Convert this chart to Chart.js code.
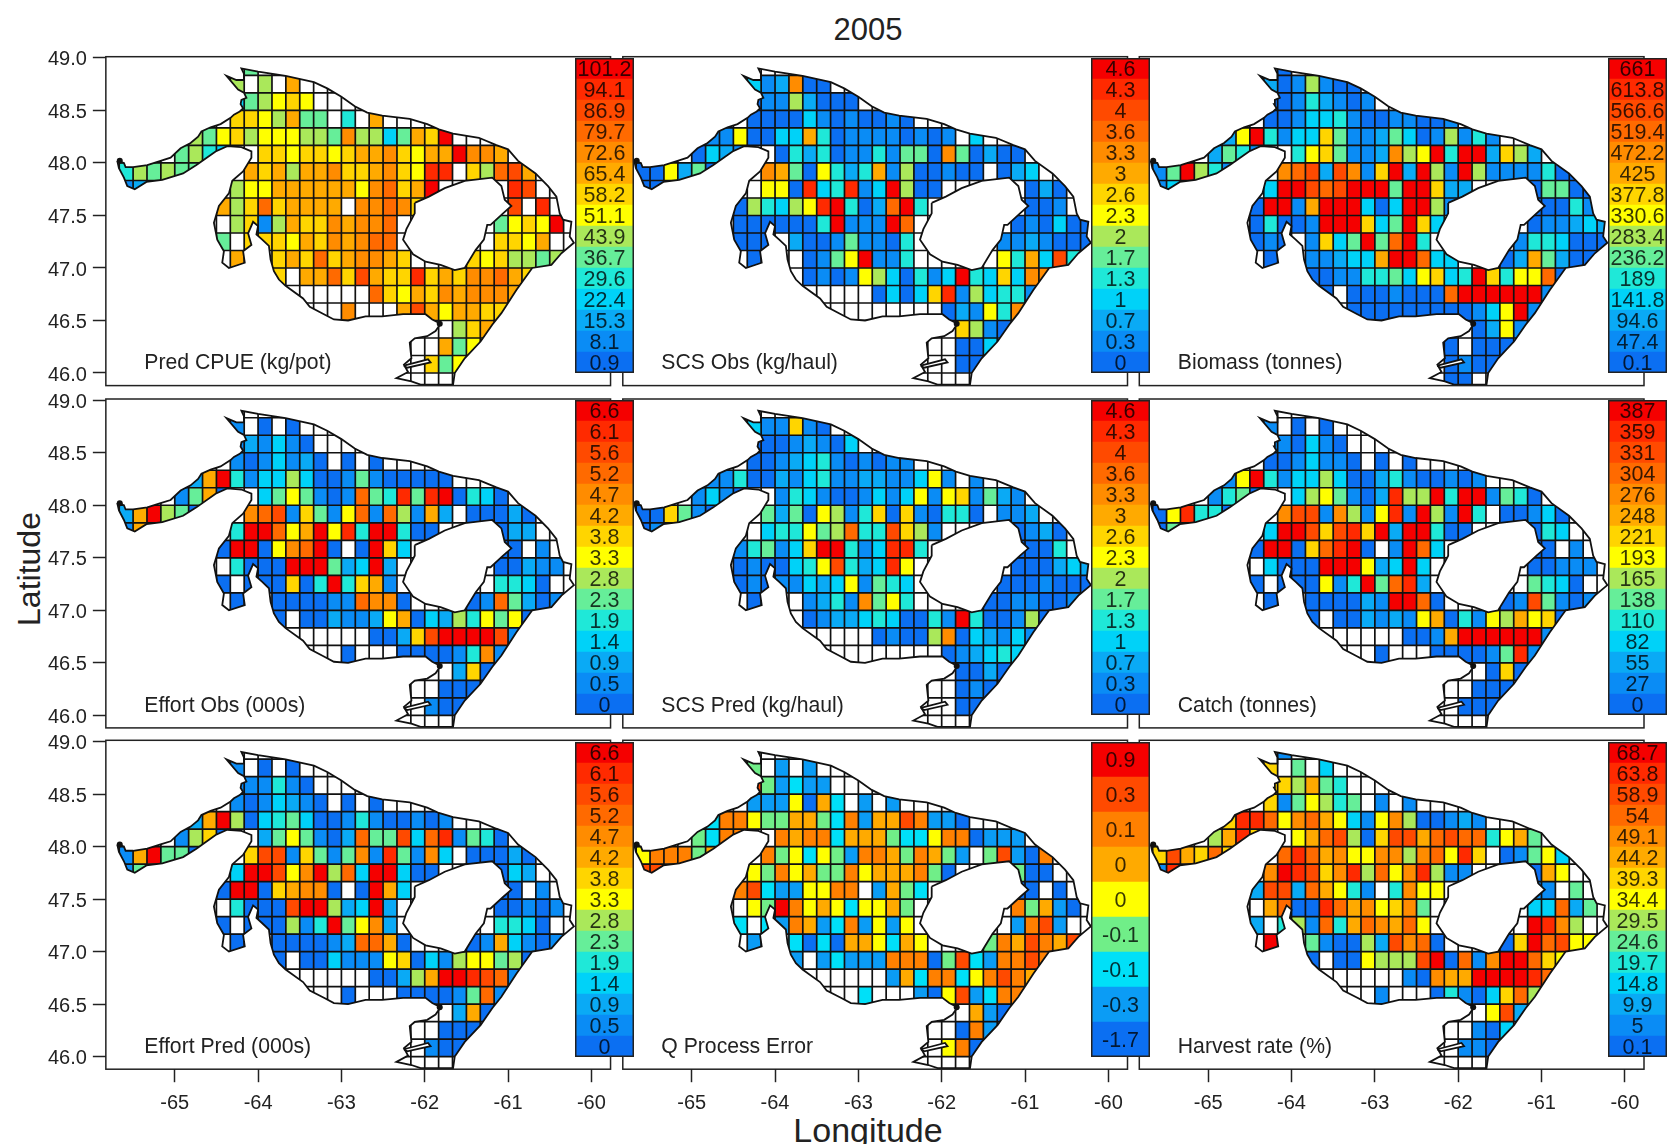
<!DOCTYPE html>
<html>
<head>
<meta charset="utf-8">
<title>2005</title>
<script src="https://cdn.jsdelivr.net/npm/chart.js@4"></script>
<style>
  body { margin: 0; background: #fff; }
  #page { position: relative; width: 1669px; height: 1144px; overflow: hidden; font-family: "Liberation Sans", Arial, sans-serif; color: #222; }
  #page canvas { position: absolute; }
  .lab { position: absolute; white-space: nowrap; transform: translate(-50%, -50%); }
</style>
</head>
<body>
<div id="page">
  <div class="lab" style="left:868px;top:30px;font-size:31px">2005</div>
  <div class="lab" style="left:868px;top:1130px;font-size:34px">Longitude</div>
  <div class="lab" style="left:29px;top:569px;font-size:32px;transform:translate(-50%,-50%) rotate(-90deg)">Latitude</div>
</div>
<script>
// axis ticks
const lonTicks = [-65, -64, -63, -62, -61, -60];
const latTicks = [46, 46.5, 47, 47.5, 48, 48.5, 49];

// grid: cells are 10 minutes square, rows run north to south from 49N, columns east from 65 40'W
const gridLat0 = 49;
const gridLon0 = -65 - 2 / 3;
const gridStep = 1 / 6;

// colour class of every cell, one string per row, '.' = no data
const predCpue = [
  ".........5",
  "........6.6.9",
  "........356787",
  "........8876955.4.9",
  ".....65786777665a663598e",
  "....5643..887887899a8799eaa9",
  "465655...989699a889a87dd.86bc9",
  "12......6779999997ab89e.....dc",
  ".......968b89999.aaba8......c.d",
  "........6816988a9aab.......5787e",
  ".......5.888798a9abb.......8879",
  "........9..898b89aa98....87866566",
  "...........8.99b8c988d898aab98",
  "..................b8798a9aaa9",
  "................a...9c979988",
  "........................689",
  ".......................9577",
  "......................857"
];
const scsObs = [
  "",
  "........312a00",
  "........01162000",
  "........000031010010",
  ".....117003394011110101.3",
  "....0321..042401141550a50200",
  "007250...a950742491600100.023",
  "00.......770d34d13e600......020",
  ".......064367de402be4.......001",
  ".......0000004e111eb.......010300",
  ".......000.200151104......1121000",
  "........0...0157e114......7493c4",
  "............01017630413e4383aa",
  ".................03038d163441",
  "......................02174a",
  ".......................8610",
  ".......................003",
  ".......................00"
];
const biomass = [
  ".........0",
  "........2016100",
  "........00142101",
  "........00133410011001",
  ".....27e41338511253016141",
  "....2541..4785112a67e4ee2862",
  "15e641...abc2ca18e2e61e61111400",
  "13......3eecbceee5ee822....05500",
  ".......0ee19eee303ee61.....00041",
  ".......04001eee835e83......011232",
  ".......010.1835e5be4......1443000",
  "........0..112339eeb33...0295200",
  "...........001144537834e8477b0",
  "............0.0001000beeeeee1",
  "..............000000000137e1",
  ".......................0271",
  ".....................0.000",
  ".....................0100",
  ".....................00."
];
const effortObs = [
  "",
  "........1.0.0",
  "........121310",
  "........1013120.0.0",
  ".....29e4133630015100000",
  "....1590..3575101b54d5de0430",
  "29e650...abc18517b1b6192.00020",
  "19......4eeb79e7d4ee400....022",
  ".......0ee07abe0.0e83......00.1",
  "........4000eee523e2.......00211",
  ".......0.000804e4891.......4430",
  "........0..000011baa0....01b5201",
  "...........0.00211279032647570",
  "..................0028ceeeec1",
  "................0...000014a1",
  "........................280",
  ".......................000",
  "......................100"
];
const scsPred = [
  "",
  "........311810",
  "........00012103",
  "........001234101011",
  ".....114002134112211371.1",
  "....1310..143100131371781521",
  "008510...5250761480810440.112",
  "01.......344756b44c861.....0120",
  ".......145138ee413dd4......0004",
  ".......0100347c423d7.......000232",
  ".......0101132371543......0001000",
  "........0...1241a574.....0011001",
  "............01223430041e400160",
  ".................01006a032131",
  "......................012343",
  ".......................0020",
  ".......................010",
  ".......................00"
];
const catchTonnes = [
  "",
  "........1.0.0",
  "........110310",
  "........0013110.0.0",
  ".....17e4133630024100101",
  "....1450..3675102d66e4ee1540",
  "07d440...acc1a617d1e61e4.00130",
  "05......3eec8cd8e2ee400....043",
  ".......0ee08bde0.1eb3......00.1",
  "........3000eee723e3.......00111",
  ".......0.000714e5bd2.......5430",
  "........0..000021eeb0....01c5101",
  "...........0.00212179041769780",
  "..................0019eeeeee1",
  "................0...000015d1",
  "........................080",
  ".......................000",
  "......................000"
];
const effortPred = [
  "",
  "........1.0.0",
  "........111410",
  "........1013210.0.0",
  ".....29e6034530014100101",
  "....1680..2575102b55c3bd1540",
  "19e550...8cc18515a1d51a3.00020",
  "15......3eec7ae6b3ee300....032",
  ".......0ee089aa0.0e93......00.1",
  "........4000cee623e2.......00101",
  ".......0.000614e57a2.......4430",
  "........0..000012bb90....0193101",
  "...........0.00311178031677560",
  "..................00269eedcb1",
  "................0...000015b1",
  "........................290",
  ".......................000",
  "......................100"
];
const qError = [
  "",
  "........3.1.1",
  "........731211",
  "........1114052.1.1",
  ".....2664335532615576110",
  "....3266..656625553224660111",
  "466635...634243166536531.37106",
  "77......436453364555630....300",
  ".......672114466.1532......00.0",
  "........438645424453.......63510",
  ".......2.21651261414.......1671",
  "........1..2020554254....3657657",
  "...........1.12111666037216676",
  "..................15266246765",
  "................2...10471266",
  "........................510",
  ".......................061",
  "......................460"
];
const harvestRate = [
  ".........1",
  "........8.5.3",
  "........886954",
  "........8157645.1.1",
  ".....8ddb7ab97317a600121",
  "....69d8..79bc608cc9bcbb4795",
  "8c98b8...bdb9a77aa6ab7d8.01573",
  "1d......aedc8ad6b7ad611....097",
  ".......2cc2b9741.4a77......11.5",
  "........9b00db9a78a5.......33b25",
  ".......2.461b49ba9b7.......eda6",
  "........e..510062cab0....08ebc77",
  "...........0.007666ce0b1aeeb87",
  "..................10a99eeeedb",
  "................1...041038b6",
  "........................7c2",
  ".......................103",
  "......................110"
];

// colour bar labels, top to bottom
const cpueLabels = ['101.2','94.1','86.9','79.7','72.6','65.4','58.2','51.1','43.9','36.7','29.6','22.4','15.3','8.1','0.9'];
const scsLabels = ['4.6','4.3','4','3.6','3.3','3','2.6','2.3','2','1.7','1.3','1','0.7','0.3','0'];
const biomassLabels = ['661','613.8','566.6','519.4','472.2','425','377.8','330.6','283.4','236.2','189','141.8','94.6','47.4','0.1'];
const effortLabels = ['6.6','6.1','5.6','5.2','4.7','4.2','3.8','3.3','2.8','2.3','1.9','1.4','0.9','0.5','0'];
const catchLabels = ['387','359','331','304','276','248','221','193','165','138','110','82','55','27','0'];
const qLabels = ['0.9','0.3','0.1','0','0','-0.1','-0.1','-0.3','-1.7'];
const harvestLabels = ['68.7','63.8','58.9','54','49.1','44.2','39.3','34.4','29.5','24.6','19.7','14.8','9.9','5','0.1'];

// palettes, low class first
const colors15 = ['#0b6ff2','#0a8cf5','#0aaaf5','#00d2f8','#1fe8d8','#66ee99','#aae85a','#ffff00','#ffd500','#ffaa00','#ff8c00','#ff6a00','#ff4a00','#ff2a00','#f50000'];
const colors9 = ['#0b6ff2','#0b9cf5','#00e0f8','#70ee88','#ffff00','#ffaa00','#ff8000','#ff4a00','#f50000'];

// coastline of the gulf, lon/lat
const coastLon = [-65.69,-65.61,-65.59,-65.50,-65.33,-65.17,-65.05,-64.93,-64.81,-64.72,-64.68,-64.57,-64.45,-64.33,-64.29,-64.22,-64.18,-64.21,-64.20,-64.14,-64.17,-64.24,-64.38,-64.26,-64.17,-64.17,-64.20,-64.00,-63.67,-63.33,-63.17,-63.00,-62.84,-62.69,-62.51,-62.18,-61.97,-61.83,-61.66,-61.35,-61.14,-61.00,-60.88,-60.67,-60.52,-60.42,-60.38,-60.34,-60.24,-60.26,-60.21,-60.36,-60.48,-60.71,-60.90,-61.08,-61.19,-61.33,-61.52,-61.64,-61.66,-61.83,-62.05,-62.16,-62.34,-62.20,-62.25,-62.16,-62.18,-62.12,-61.97,-61.87,-61.81,-61.91,-61.99,-62.26,-62.51,-62.71,-62.92,-63.09,-63.21,-63.38,-63.46,-63.67,-63.75,-63.81,-63.85,-63.87,-63.95,-64.02,-64.00,-64.06,-64.12,-64.08,-64.18,-64.16,-64.35,-64.43,-64.41,-64.49,-64.53,-64.47,-64.35,-64.31,-64.18,-64.08,-64.08,-64.20,-64.37,-64.51,-64.74,-64.90,-65.15,-65.34,-65.48,-65.57,-65.61,-65.67];
const coastLat = [48.02,48.00,47.96,47.96,47.98,48.02,48.05,48.14,48.19,48.25,48.30,48.34,48.37,48.43,48.46,48.49,48.52,48.56,48.60,48.62,48.67,48.70,48.83,48.79,48.79,48.85,48.90,48.87,48.83,48.77,48.71,48.63,48.54,48.48,48.45,48.42,48.37,48.32,48.28,48.24,48.17,48.13,48.02,47.90,47.78,47.68,47.52,47.46,47.44,47.30,47.24,47.14,47.03,47.00,46.79,46.57,46.46,46.30,46.14,46.00,45.89,45.89,45.89,45.92,45.95,46.01,46.08,46.14,46.29,46.33,46.35,46.40,46.47,46.51,46.56,46.56,46.54,46.54,46.50,46.51,46.56,46.63,46.71,46.83,46.89,46.97,47.08,47.21,47.27,47.32,47.40,47.44,47.33,47.22,47.16,47.05,47.00,47.05,47.16,47.27,47.43,47.59,47.71,47.83,47.92,48.05,48.11,48.15,48.16,48.11,47.98,47.90,47.84,47.82,47.75,47.78,47.86,47.95];
// the island in the middle
const islandLon = [-62.12,-61.95,-61.76,-61.52,-61.19,-61.08,-61.04,-60.96,-61.06,-61.21,-61.25,-61.29,-61.39,-61.52,-61.64,-61.81,-61.99,-62.14,-62.26,-62.22,-62.12];
const islandLat = [47.62,47.68,47.76,47.83,47.86,47.78,47.65,47.59,47.52,47.41,47.41,47.27,47.17,47.00,46.98,47.03,47.06,47.13,47.27,47.37,47.52];
// thin spit near the bottom
const spitLon = [-62.25,-61.96,-61.93,-62.21];
const spitLat = [46.07,46.13,46.10,46.05];
// the two small black blobs on the shore
const blobLon = [-65.66,-61.82];
const blobLat = [48.02,46.47];

// layout of the figure in page pixels
const colLeft = [105.85, 622.8, 1139.3];
const rowTop = [56.7, 399, 740.3];
const frameW = 504.7;
const frameH = 328.9;
const barLeft = [575, 1091, 1608];
const barTop = [58, 400, 742];
const lonMin = -65.827, lonMax = -59.77;
const latMin = 45.88, latMax = 49.012;
const lineCol = '#222';
const fontName = '"Liberation Sans", Arial, sans-serif';

const page = document.getElementById('page');

function addCanvas(left, top, w, h, z) {
  const c = document.createElement('canvas');
  c.width = w;
  c.height = h;
  c.style.left = left + 'px';
  c.style.top = top + 'px';
  c.style.width = w + 'px';
  c.style.height = h + 'px';
  c.style.zIndex = z;
  page.appendChild(c);
  return c;
}

function ring(lons, lats) {
  const pts = lons.map((x, i) => ({ x: x, y: lats[i] }));
  pts.push(pts[0]);
  return pts;
}

function cellData(rows) {
  const cells = [];
  const fills = [];
  for (let r = 0; r < 19; r++) {
    const row = rows[r] || '';
    for (let c = 0; c < 35; c++) {
      cells.push({
        x: gridLon0 + (c + 0.5) * gridStep,
        y: [gridLat0 - (r + 1) * gridStep, gridLat0 - r * gridStep]
      });
      // '.' or nothing gives NaN, which stays white
      fills.push(parseInt(row[c] || '.', 15));
    }
  }
  return { cells, fills };
}

// the cell edges, one path with gaps between the lines
function gridEdges() {
  const pts = [];
  const latEnd = gridLat0 - 19 * gridStep;
  const lonEnd = gridLon0 + 35 * gridStep;
  for (let r = 0; r <= 19; r++) {
    const lat = gridLat0 - r * gridStep;
    pts.push({ x: gridLon0, y: lat }, { x: lonEnd, y: lat }, { x: NaN, y: NaN });
  }
  for (let c = 0; c <= 35; c++) {
    const lon = gridLon0 + c * gridStep;
    pts.push({ x: lon, y: gridLat0 }, { x: lon, y: latEnd }, { x: NaN, y: NaN });
  }
  return pts;
}

// clips cells and cell edges to the water, and draws frame + panel name
const mapPlugin = {
  id: 'mapPlugin',
  beforeDatasetDraw(chart, args) {
    if (!chart.data.datasets[args.index].water) return;
    const ctx = chart.ctx;
    const xs = chart.scales.x, ys = chart.scales.y;
    ctx.save();
    ctx.beginPath();
    [[coastLon, coastLat], [islandLon, islandLat], [spitLon, spitLat]].forEach(([lons, lats]) => {
      lons.forEach((v, i) => {
        const px = xs.getPixelForValue(v), py = ys.getPixelForValue(lats[i]);
        if (i === 0) ctx.moveTo(px, py); else ctx.lineTo(px, py);
      });
      ctx.closePath();
    });
    ctx.clip('evenodd');
  },
  afterDatasetDraw(chart, args) {
    if (chart.data.datasets[args.index].water) chart.ctx.restore();
  },
  afterDraw(chart, args, opts) {
    const ctx = chart.ctx;
    const a = chart.chartArea;
    ctx.save();
    ctx.strokeStyle = lineCol;
    ctx.lineWidth = 1.5;
    ctx.strokeRect(a.left, a.top, a.right - a.left, a.bottom - a.top);
    ctx.fillStyle = '#222';
    ctx.font = '21.2px ' + fontName;
    ctx.textBaseline = 'middle';
    ctx.fillText(opts.name, chart.scales.x.getPixelForValue(-65.365), chart.scales.y.getPixelForValue(46.09));
    ctx.restore();
  }
};

function drawPanel(col, row, name, rows, palette) {
  const hasY = col === 0;
  const hasX = row === 2;
  const left = hasY ? 0 : Math.floor(colLeft[col]) - 2;
  // the left column needs room above the frame for the top tick label
  const top = Math.floor(rowTop[row]) - (hasY ? 16 : 2);
  const w = Math.ceil(colLeft[col] - left + frameW) + 2;
  const h = Math.ceil(rowTop[row] - top + frameH) + (hasX ? 46 : 2);
  const canvas = addCanvas(left, top, w, h, 1);
  const { cells, fills } = cellData(rows);
  const blackLine = { type: 'line', borderColor: '#111', borderWidth: 1.8, pointRadius: 0, tension: 0, order: 1, fill: false };

  new Chart(canvas, {
    type: 'bar',
    data: {
      datasets: [
        {
          label: name,
          data: cells,
          backgroundColor: fills.map(f => isNaN(f) ? '#ffffff' : palette[f]),
          borderWidth: 0,
          inflateAmount: 0.3,
          barThickness: (frameW / (lonMax - lonMin)) * gridStep,
          water: true,
          order: 3
        },
        {
          type: 'line',
          data: gridEdges(),
          borderColor: '#111',
          borderWidth: 1.7,
          pointRadius: 0,
          tension: 0,
          spanGaps: false,
          water: true,
          order: 2
        },
        Object.assign({ data: ring(coastLon, coastLat) }, blackLine),
        Object.assign({ data: ring(islandLon, islandLat) }, blackLine),
        Object.assign({ data: ring(spitLon, spitLat) }, blackLine),
        {
          type: 'line',
          data: blobLon.map((x, i) => ({ x: x, y: blobLat[i] })),
          showLine: false,
          pointRadius: 3,
          pointBackgroundColor: '#111',
          pointBorderWidth: 0,
          order: 1
        }
      ]
    },
    options: {
      responsive: false,
      animation: false,
      devicePixelRatio: 1,
      events: [],
      layout: {
        autoPadding: false,
        padding: {
          left: hasY ? 0 : colLeft[col] - left,
          top: rowTop[row] - top,
          right: w - (colLeft[col] - left) - frameW,
          bottom: hasX ? 0 : h - (rowTop[row] - top) - frameH
        }
      },
      plugins: {
        legend: { display: false },
        tooltip: { enabled: false },
        mapPlugin: { name: name }
      },
      scales: {
        x: {
          type: 'linear',
          display: hasX,
          offset: false,
          min: lonMin,
          max: lonMax,
          afterBuildTicks: s => { s.ticks = lonTicks.map(v => ({ value: v })); },
          afterFit: s => {
            if (!hasX) return;
            s.height = h - (rowTop[row] - top) - frameH;
            s.paddingLeft = 0;
            s.paddingRight = 0;
          },
          grid: { display: true, offset: false, drawOnChartArea: false, tickLength: 13, tickColor: lineCol, tickWidth: 1.5 },
          border: { display: false },
          ticks: {
            autoSkip: false,
            maxRotation: 0,
            padding: 9,
            color: '#222',
            font: { family: fontName, size: 20 },
            callback: v => String(v)
          }
        },
        y: {
          type: 'linear',
          display: hasY,
          min: latMin,
          max: latMax,
          afterBuildTicks: s => { s.ticks = latTicks.map(v => ({ value: v })); },
          afterFit: s => {
            if (!hasY) return;
            s.width = colLeft[col];
            s.paddingTop = 0;
            s.paddingBottom = 0;
          },
          grid: { display: true, drawOnChartArea: false, tickLength: 13, tickColor: lineCol, tickWidth: 1.5 },
          border: { display: false },
          ticks: {
            padding: 6,
            labelOffset: 2,
            color: '#222',
            font: { family: fontName, size: 20 },
            callback: v => v.toFixed(1)
          }
        }
      }
    },
    plugins: [mapPlugin]
  });
}

const barTextPlugin = {
  id: 'barTextPlugin',
  afterDraw(chart) {
    const ctx = chart.ctx;
    const a = chart.chartArea;
    const ys = chart.scales.y;
    ctx.save();
    ctx.fillStyle = 'rgba(0,0,0,0.78)';
    ctx.font = '21.5px ' + fontName;
    ctx.textAlign = 'center';
    ctx.textBaseline = 'middle';
    chart.data.labels.forEach((t, i) => {
      ctx.fillText(t, (a.left + a.right) / 2, ys.getPixelForValue(i) + 2);
    });
    ctx.strokeStyle = lineCol;
    ctx.lineWidth = 1.5;
    ctx.strokeRect(a.left + 0.75, a.top + 0.75, a.right - a.left - 1.5, a.bottom - a.top - 1.5);
    ctx.restore();
  }
};

function drawColorBar(col, row, labels, palette) {
  const canvas = addCanvas(barLeft[col], barTop[row], 59, 315, 2);
  new Chart(canvas, {
    type: 'bar',
    data: {
      labels: labels,
      datasets: [{
        data: labels.map(() => 1),
        backgroundColor: palette.slice().reverse(),
        borderWidth: 0,
        barPercentage: 1,
        categoryPercentage: 1
      }]
    },
    options: {
      indexAxis: 'y',
      responsive: false,
      animation: false,
      devicePixelRatio: 1,
      events: [],
      layout: { autoPadding: false, padding: 0 },
      plugins: { legend: { display: false }, tooltip: { enabled: false } },
      scales: {
        x: { display: false, min: 0, max: 1 },
        y: { display: false }
      }
    },
    plugins: [barTextPlugin]
  });
}

drawPanel(0, 0, 'Pred CPUE (kg/pot)', predCpue, colors15);
drawPanel(1, 0, 'SCS Obs (kg/haul)', scsObs, colors15);
drawPanel(2, 0, 'Biomass (tonnes)', biomass, colors15);
drawPanel(0, 1, 'Effort Obs (000s)', effortObs, colors15);
drawPanel(1, 1, 'SCS Pred (kg/haul)', scsPred, colors15);
drawPanel(2, 1, 'Catch (tonnes)', catchTonnes, colors15);
drawPanel(0, 2, 'Effort Pred (000s)', effortPred, colors15);
drawPanel(1, 2, 'Q Process Error', qError, colors9);
drawPanel(2, 2, 'Harvest rate (%)', harvestRate, colors15);

drawColorBar(0, 0, cpueLabels, colors15);
drawColorBar(1, 0, scsLabels, colors15);
drawColorBar(2, 0, biomassLabels, colors15);
drawColorBar(0, 1, effortLabels, colors15);
drawColorBar(1, 1, scsLabels, colors15);
drawColorBar(2, 1, catchLabels, colors15);
drawColorBar(0, 2, effortLabels, colors15);
drawColorBar(1, 2, qLabels, colors9);
drawColorBar(2, 2, harvestLabels, colors15);
</script>
</body>
</html>
